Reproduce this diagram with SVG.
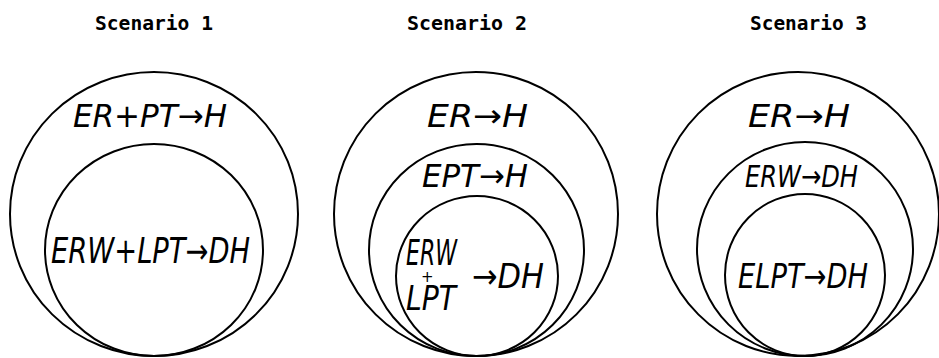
<svg xmlns="http://www.w3.org/2000/svg" width="939" height="358" viewBox="0 0 939 358">
<style>
.c{fill:none;stroke:#000;stroke-width:2}
.t{font-family:"DejaVu Sans","Liberation Sans",sans-serif;font-style:italic;fill:#000}
.h{font-family:"DejaVu Sans Mono","Liberation Mono",monospace;font-weight:bold;font-size:20px;fill:#000}
</style>
<rect width="939" height="358" fill="#fff"/>
<g id="title1"><text class="h" x="95" y="30" textLength="118" lengthAdjust="spacingAndGlyphs">Scenario 1</text></g>
<g id="title2"><text class="h" x="407" y="30" textLength="120" lengthAdjust="spacingAndGlyphs">Scenario 2</text></g>
<g id="title3"><text class="h" x="750" y="30" textLength="117" lengthAdjust="spacingAndGlyphs">Scenario 3</text></g>

<g id="s1-outer">
<ellipse class="c" cx="154" cy="214" rx="144" ry="142"/>
<text class="t" x="73" y="127" font-size="32" textLength="154" lengthAdjust="spacingAndGlyphs">ER+PT→H</text>
</g>
<g id="s1-inner">
<ellipse class="c" cx="154" cy="250" rx="109" ry="106"/>
<text class="t" x="51" y="263" font-size="35" textLength="199" lengthAdjust="spacingAndGlyphs">ERW+LPT→DH</text>
</g>

<g id="s2-outer">
<ellipse class="c" cx="476" cy="214" rx="142" ry="142"/>
<text class="t" x="427" y="127" font-size="32" textLength="101" lengthAdjust="spacingAndGlyphs">ER→H</text>
</g>
<g id="s2-middle">
<ellipse class="c" cx="476.5" cy="250" rx="107.5" ry="106"/>
<text class="t" x="422" y="187" font-size="32" textLength="106" lengthAdjust="spacingAndGlyphs">EPT→H</text>
</g>
<g id="s2-inner">
<ellipse class="c" cx="477" cy="276" rx="81" ry="80"/>
<text class="t" x="406" y="265" font-size="36" textLength="51" lengthAdjust="spacingAndGlyphs">ERW</text>
<text class="t" x="421" y="282" font-size="15">+</text>
<text class="t" x="406" y="310" font-size="33" textLength="50" lengthAdjust="spacingAndGlyphs">LPT</text>
<text class="t" x="472" y="288" font-size="34" textLength="72" lengthAdjust="spacingAndGlyphs">→DH</text>
</g>

<g id="s3-outer">
<ellipse class="c" cx="798" cy="214" rx="141" ry="142"/>
<text class="t" x="748" y="127" font-size="32" textLength="102" lengthAdjust="spacingAndGlyphs">ER→H</text>
</g>
<g id="s3-middle">
<ellipse class="c" cx="805" cy="249" rx="108" ry="107"/>
<text class="t" x="745" y="187" font-size="31" textLength="113" lengthAdjust="spacingAndGlyphs">ERW→DH</text>
</g>
<g id="s3-inner">
<ellipse class="c" cx="805" cy="275" rx="80" ry="81"/>
<text class="t" x="738" y="288" font-size="34" textLength="130" lengthAdjust="spacingAndGlyphs">ELPT→DH</text>
</g>
</svg>
